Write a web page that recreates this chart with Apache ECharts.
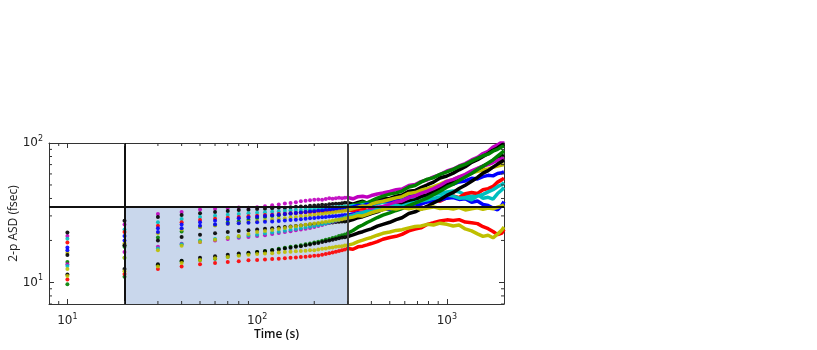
<!DOCTYPE html>
<html>
<head>
    <meta charset="utf-8">
    <title>2-p ASD</title>
    <script src="https://cdn.jsdelivr.net/npm/echarts@6/dist/echarts.min.js"></script>
    <style>
        html, body { height: 100%; margin: 0; padding: 0; background: #fff; }
    </style>
</head>
<body>
<div id="chart-box" style="width:817px; height:350px;"></div>
<script type="text/javascript">
    // sample times of the dotted part (s)
    const dotT = [10,20,30,40,50,60,70,80,90,100,110,120,130,140,150,160,170,180,190,200,210,220,230,240,250,260,270,280,290,300];
    // sample times of the solid part (s)
    const lineT = [300,320,340,360,380,400,430,460,500,540,580,630,680,730,790,850,920,1000,1080,1160,1250,1350,1450,1550,1650,1750,1850,1950,2000];

    const colors = ["#bf00bf","#000000","#008000","#00bfbf","#ff0000","#0000ff","#bfbf00","#000000",
                    "#0000ff","#bf00bf","#00bfbf","#008000","#000000","#bfbf00","#ff0000","#bfbf00"];

    const dots = [
        [21.5,26,30.9,32,33.3,33.8,34.2,34.5,34.3,34.6,35.2,35.8,36.2,36.8,37.1,37.6,38.2,38.5,38.9,39.2,39.4,39.1,39.6,40.1,39.8,40.2,40.5,40.1,40.4,40.6],
        [22.8,27.7,29.5,30.5,31.3,32,32.5,33,33.2,33.6,33.8,34.1,34.3,34.2,34.6,34.9,35.1,35,35.4,35.6,35.8,36,35.9,36.3,36.5,36.7,36.6,36.9,37.2,37.3],
        [14,18,21,23.2,25,25.8,26.9,27.5,28.2,29,29.4,29.9,30.3,30.8,31.1,31.5,31.8,32.1,32.3,32.6,32.9,33.2,33.4,33.7,33.9,34.2,34.4,34.6,34.8,35],
        [20.6,24,27,28.5,29.5,30.1,30.6,31,31.3,31.6,31.9,32.1,32.3,32.5,32.8,33,33.1,33.3,33.5,33.6,33.8,34,34.1,34.3,34.4,34.6,34.7,34.8,35,35.1],
        [19.3,23,25.5,27,28,28.6,29.1,29.5,29.8,30.1,30.4,30.6,30.9,31.1,31.3,31.5,31.6,31.8,31.9,32,32.2,32.3,32.4,32.5,32.7,32.8,32.9,33,33.1,33.2],
        [17.8,21.5,24.5,26,27,27.7,28.3,28.8,29.2,29.6,30,30.3,30.6,30.9,31.2,31.5,31.7,32,32.2,32.4,32.6,32.8,33,33.2,33.3,33.5,33.7,33.8,34,34.1],
        [16.3,19,22.5,24,25,25.6,26.2,26.7,27.1,27.5,27.9,28.3,28.6,28.9,29.2,29.5,29.8,30,30.3,30.5,30.8,31,31.3,31.5,31.7,32,32.2,32.4,32.7,33],
        [15.7,18.5,20,21.2,22,22.5,23,23.4,23.7,24,24.3,24.5,24.8,25,25.2,25.4,25.6,25.8,26,26.1,26.3,26.5,26.6,26.8,26.9,27.1,27.2,27.3,27.4,27.5],
        [17,20,23,24.5,25.5,26,26.3,26.6,26.8,27,27.2,27.4,27.6,27.8,28,28.2,28.4,28.6,28.8,29,29.2,29.3,29.5,29.7,29.8,30,30.1,30.3,30.4,30.5],
        [13.5,16.5,18,18.9,19.5,20,20.5,20.9,21.2,21.5,21.8,22.2,22.6,23,23.3,23.7,24,24.3,24.6,25,25.4,25.8,26.3,26.8,27.2,27.7,28.1,28.6,29,29.5],
        [13.1,15,17.5,18.8,20,20.5,21,21.3,21.7,22,22.4,22.8,23.1,23.5,23.9,24.2,24.5,24.8,25.1,25.4,25.7,26.1,26.5,26.9,27.3,27.8,28.2,28.7,29.2,29.7],
        [9.7,11,13.3,14.2,14.5,14.8,15.3,15.7,16.1,16.5,16.8,17.1,17.4,17.7,18,18.2,18.5,18.8,19,19.3,19.6,19.9,20.2,20.5,20.8,21.1,21.5,21.8,22.1,22.5],
        [11.4,12.5,13.5,14.3,15,15.4,15.8,16.1,16.3,16.5,16.7,17,17.2,17.5,17.7,18,18.2,18.5,18.7,19,19.2,19.5,19.7,20,20.2,20.5,20.7,21,21.1,21.3],
        [12.5,15,17,18.3,19.5,20.2,20.9,21.5,22.2,23,23.4,23.8,24.2,24.6,25,25.3,25.6,25.9,26.2,26.5,26.7,27,27.2,27.5,27.7,28,28.2,28.4,28.7,29],
        [10.5,11.5,12.5,13,13.5,13.8,14,14.2,14.4,14.5,14.6,14.7,14.8,14.9,15,15.1,15.2,15.3,15.4,15.5,15.6,15.8,16,16.2,16.4,16.6,16.8,17,17.2,17.5],
        [11.1,12,13,13.8,14.5,14.9,15.2,15.5,15.8,16,16.1,16.2,16.4,16.5,16.6,16.7,16.8,16.9,17,17,17.2,17.4,17.5,17.7,17.8,18,18.1,18.2,18.4,18.5]
    ];

    const lines = [
        [40.6,39.8,41.2,41.5,40.9,42,43.1,43.8,45,46.2,46.8,49.5,50.3,52.8,54.5,57.2,59.4,63,65.1,68.4,71.2,75.6,78.9,84,87.2,93.5,97,102,104],
        [37.3,36.4,37.5,38.2,37.1,38,38.9,39.6,40,41.5,42.3,45,45.6,47.8,50.2,52.4,56.1,58,60.8,64.2,67.5,72.6,75.8,80,84.1,88.7,92,96.8,98],
        [35,35.8,36.5,37.6,37.2,38.4,40.2,41.6,43,43.9,45.2,48.3,49.6,52.4,55.1,56.4,59.5,62,64.7,67.8,70.2,74.1,77.6,81,83.2,87.4,90,94.1,95],
        [35.1,35.6,35.2,36.1,36.4,35.8,36.7,37.5,37,38.2,38.6,39.4,39.8,40.9,41.6,42.8,43.2,44.5,45.2,44.6,42.4,41.3,42.6,40.1,40.8,39.6,43.4,46.2,48],
        [33.2,32.6,33.4,33.8,32.9,33.6,34.5,33.8,35.2,36.1,35.4,36.7,37.5,36.4,38.6,39.4,38.2,40.5,41.8,40.6,43.2,44.1,43.5,46.2,47.1,48.8,52.4,54.6,56],
        [34.1,34.8,35.6,35.2,36.4,36.1,37.5,38.3,38.4,39.6,40.8,42.4,43.1,44.6,45.2,46.8,47.5,50.2,50.8,52.6,53.4,55.8,55.2,57.4,58.6,58.1,60.4,61.2,62],
        [33,33.9,34.6,35.3,35.1,36.4,37.6,38.2,39.3,40.4,41.2,43.5,44.1,45.8,47.2,48.6,50.8,53.2,54.6,57.1,58.4,61.2,62.6,64.3,65.1,66.8,68.2,69.4,70],
        [27.5,28.2,29.1,29.6,30.4,31.2,32.1,33.4,34,35.6,36.4,38.2,39.1,41.3,42.6,44.8,47.4,50.2,52.1,55.6,58.1,61.4,65.2,68.3,71.2,74.6,78.1,80.4,82],
        [30.5,30.9,31.6,31.3,32.2,32.4,32.8,33.6,33.4,34.6,34.2,35.3,35.8,36.5,37.8,38.4,38.9,40.2,40.6,39.4,39.8,37.6,38.4,36.2,35.6,34.1,33.2,35.8,38],
        [29.5,30.4,31.2,31.6,32.5,33.2,34.6,35.1,36.2,37.8,38.4,40.6,41.8,43.5,45.2,47.1,49.6,53.1,54.8,57.2,59.6,63.1,65.8,68.2,70.1,72.4,75.2,77.1,78],
        [29.7,30.2,31.1,31.6,32.4,32.1,33.4,34.2,34.5,35.6,35.2,36.6,37.4,38.3,39.1,40.2,40.8,42.3,41.6,40.2,40.4,39.2,41.6,42.8,44.6,46.2,48.6,50.4,52],
        [22.5,23.6,24.9,25.8,26.9,27.8,29.2,30.4,31.5,32.8,33.9,35.6,37.1,38.6,40.4,42.6,45.1,48.2,50.6,53.8,57.1,60.4,64.6,68.2,71.8,75.6,80.4,85.2,88],
        [21.3,21.9,22.6,23.1,23.7,24.2,25.3,26.1,27,28.2,29.1,31.2,32.1,33.6,35.2,37.1,39.2,42.1,44.2,47.1,49.8,53.2,56.6,60.8,63.4,67.1,70.6,73.8,75],
        [29,29.4,30.1,30,30.8,31.6,32.5,33.2,34,33.6,34.4,33.8,34.5,33.4,34.2,34.8,33.9,34.2,33.6,34.4,33.1,33.8,34.3,33.4,34.1,33.7,34.6,35.4,36],
        [17.5,17.3,18,18.2,18.6,19,19.6,20.4,21,21.4,22.1,23.4,24.1,24.6,26.1,26.8,27.6,28.1,27.8,28.2,27.1,26.8,26.4,25.1,24.3,23.2,22,22.6,24],
        [18.5,18.9,19.6,20.1,20.6,21,21.8,22.5,23,23.6,23.9,24.6,25.2,25.4,26.1,25.8,26.6,26.1,25.4,25.8,24.2,23.4,22.3,21.4,21.8,20.9,22.2,23.8,25]
    ];

    const minorX = [9,20,30,40,50,60,70,80,90,200,300,400,500,600,700,800,900];
    const minorY = [7,8,9,20,30,40,50,60,70,80,90];
    const shadeX = [20, 300];
    const levelY = 35;

    const chart = echarts.init(document.getElementById("chart-box"));

    const pow10 = v => {
        const e = Math.log10(v);
        return Math.abs(e - Math.round(e)) < 1e-6 ? Math.round(e) : null;
    };
    const tickLabel = v => {
        const e = pow10(v);
        return e === null ? "" : "{b|10}{s|" + e + "}";
    };
    const rich = {
        b: { fontSize: 12, fontFamily: "DejaVu Sans", color: "#222", lineHeight: 16 },
        s: { fontSize: 8, fontFamily: "DejaVu Sans", color: "#222", verticalAlign: "top", lineHeight: 10 }
    };

    const series = [];
    series.push({
        type: "line", data: [], silent: true, z: 0,
        markArea: {
            silent: true,
            itemStyle: { color: "#c9d7ec", opacity: 1 },
            data: [[{ xAxis: shadeX[0], yAxis: 7 }, { xAxis: shadeX[1], yAxis: levelY }]]
        }
    });
    dots.forEach((d, i) => {
        series.push({
            type: "scatter", symbolSize: 4, z: 3,
            itemStyle: { color: colors[i], opacity: 0.9 },
            data: d.map((v, j) => [dotT[j], v])
        });
    });
    lines.forEach((d, i) => {
        series.push({
            type: "line", showSymbol: false, z: 4, clip: true,
            lineStyle: { color: colors[i], width: 3.5 },
            data: d.map((v, j) => [lineT[j], v])
        });
    });
    series.push({
        type: "line", data: [], z: 10,
        markLine: {
            silent: true, symbol: "none", label: { show: false },
            lineStyle: { color: "#111", width: 2, type: "solid" },
            data: [{ xAxis: shadeX[0] }, { xAxis: shadeX[1], lineStyle: { color: "#444" } }, { yAxis: levelY }]
        }
    });
    // minor ticks on log axes
    series.push({
        type: "custom", z: 12, silent: true,
        data: minorX.map(v => [v, 10]),
        renderItem: (params, api) => {
            const x = api.coord([api.value(0), 10])[0];
            const cs = params.coordSys;
            return { type: "group", children: [
                { type: "line", shape: { x1: x, y1: cs.y + cs.height, x2: x, y2: cs.y + cs.height - 3 }, style: { stroke: "#333", lineWidth: 1 } },
                { type: "line", shape: { x1: x, y1: cs.y, x2: x, y2: cs.y + 3 }, style: { stroke: "#333", lineWidth: 1 } }
            ]};
        }
    });
    series.push({
        type: "custom", z: 12, silent: true,
        data: minorY.map(v => [10, v]),
        renderItem: (params, api) => {
            const y = api.coord([10, api.value(1)])[1];
            const cs = params.coordSys;
            return { type: "group", children: [
                { type: "line", shape: { x1: cs.x, y1: y, x2: cs.x + 3, y2: y }, style: { stroke: "#333", lineWidth: 1 } },
                { type: "line", shape: { x1: cs.x + cs.width, y1: y, x2: cs.x + cs.width - 3, y2: y }, style: { stroke: "#333", lineWidth: 1 } }
            ]};
        }
    });

    const axisCommon = {
        type: "log", logBase: 10,
        splitLine: { show: false },
        axisLine: { show: true, lineStyle: { color: "#333", width: 1 } },
        axisTick: { show: true, inside: true, length: 5, lineStyle: { color: "#333" } }
    };

    const option = {
        animation: false,
        grid: { left: 49, right: 313, top: 143, bottom: 46, containLabel: false, outerBoundsMode: "none" },
        xAxis: [
            Object.assign({}, axisCommon, {
                min: 8, max: 2000, position: "bottom",
                name: "Time (s)", nameLocation: "middle", nameGap: 25, nameMoveOverlap: false,
                nameTextStyle: { fontFamily: "Open Sans", fontWeight: 600, fontSize: 12, color: "#111" },
                axisLabel: { margin: 9, formatter: tickLabel, rich: rich }
            }),
            Object.assign({}, axisCommon, {
                min: 8, max: 2000, position: "top", axisLabel: { show: false }
            })
        ],
        yAxis: [
            Object.assign({}, axisCommon, {
                min: 7, max: 100, position: "left",
                name: "2-p ASD (fsec)", nameLocation: "middle", nameGap: 29, nameRotate: 90, nameMoveOverlap: false,
                nameTextStyle: { fontFamily: "Open Sans", fontSize: 12, color: "#222" },
                axisLabel: { margin: 6, formatter: tickLabel, rich: rich }
            }),
            Object.assign({}, axisCommon, {
                min: 7, max: 100, position: "right", axisLabel: { show: false }
            })
        ],
        series: series
    };
    chart.setOption(option);
</script>
</body>
</html>
